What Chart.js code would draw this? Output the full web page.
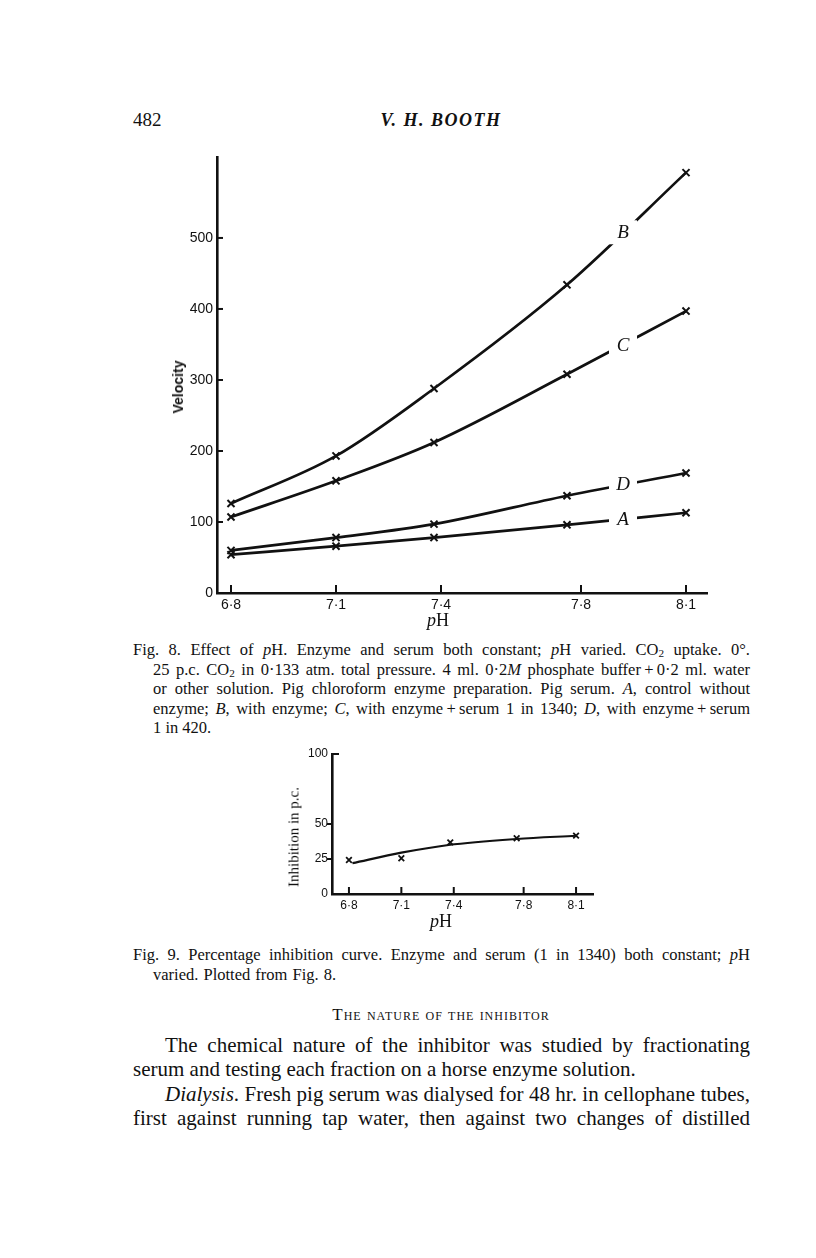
<!DOCTYPE html>
<html>
<head>
<meta charset="utf-8">
<script src="https://cdn.jsdelivr.net/npm/chart.js@4.4.1/dist/chart.umd.min.js"></script>
<style>
body { margin: 0; width: 816px; height: 1258px; position: relative; overflow: hidden; background: #fff; color: #111; font-family: "Liberation Serif", serif; }
.t { position: absolute; white-space: nowrap; }
.j { position: absolute; white-space: nowrap; }
.cap { font-size: 16.5px; line-height: 20px; }
.body { font-size: 21px; line-height: 24px; }
sub { font-size: 68%; vertical-align: -2px; line-height: 0; }
canvas { position: absolute; }
.rot { position: absolute; white-space: nowrap; transform: translate(-50%, -50%) rotate(-90deg); }
</style>
</head>
<body>

<div class="t" style="left:133px; top:109px; font-size:19px; line-height:22px;">482</div>
<div class="t" style="left:241px; width:400px; top:109px; text-align:center; font-size:18px; line-height:22px; font-weight:bold; font-style:italic; letter-spacing:1.5px;">V. H. BOOTH</div>

<div style="position:absolute; left:140px; top:140px; width:600px; height:500px;"><canvas id="velocityChart"></canvas></div>
<div class="rot" style="left:178px; top:387px; font-family:'Liberation Sans', sans-serif; font-weight:bold; font-size:14px;">Velocity</div>
<div class="t" style="left:388px; width:100px; top:609px; text-align:center; font-size:18px; line-height:22px;"><i>p</i>H</div>

<div class="j cap" style="left:133px; width:617px; top:640px;"><span>Fig. 8. Effect of <i>p</i>H. Enzyme and serum both constant; <i>p</i>H varied. CO<sub>2</sub> uptake. 0°.</span></div>
<div class="j cap" style="left:153px; width:597px; top:659.5px;"><span>25 p.c. CO<sub>2</sub> in 0·133 atm. total pressure. 4 ml. 0·2<i>M</i> phosphate buffer&#8201;+&#8201;0·2 ml. water</span></div>
<div class="j cap" style="left:153px; width:597px; top:679px;"><span>or other solution. Pig chloroform enzyme preparation. Pig serum. <i>A</i>, control without</span></div>
<div class="j cap" style="left:153px; width:597px; top:698.5px;"><span>enzyme; <i>B</i>, with enzyme; <i>C</i>, with enzyme&#8201;+&#8201;serum 1 in 1340; <i>D</i>, with enzyme&#8201;+&#8201;serum</span></div>
<div class="t cap" style="left:153px; top:718px;">1 in 420.</div>

<div style="position:absolute; left:280px; top:740px; width:340px; height:200px;"><canvas id="inhibitionChart"></canvas></div>
<div class="rot" style="left:294px; top:837px; font-size:15px;">Inhibition in p.c.</div>
<div class="t" style="left:391px; width:100px; top:910px; text-align:center; font-size:18px; line-height:22px;"><i>p</i>H</div>

<div class="j cap" style="left:133px; width:617px; top:945px;"><span>Fig. 9. Percentage inhibition curve. Enzyme and serum (1 in 1340) both constant; <i>p</i>H</span></div>
<div class="t cap" style="left:153px; top:965px; word-spacing:1px;">varied. Plotted from Fig. 8.</div>

<div class="t" style="left:141px; width:600px; top:1005px; text-align:center; font-size:17px; line-height:20px; font-variant:small-caps; letter-spacing:1px;">The nature of the inhibitor</div>

<div class="j body" style="left:165px; width:585px; top:1033px;"><span>The chemical nature of the inhibitor was studied by fractionating</span></div>
<div class="t body" style="left:133px; top:1057px;">serum and testing each fraction on a horse enzyme solution.</div>
<div class="j body" style="left:165px; width:585px; top:1082px;"><span><i>Dialysis</i>. Fresh pig serum was dialysed for 48 hr. in cellophane tubes,</span></div>
<div class="j body" style="left:133px; width:617px; top:1106px;"><span>first against running tap water, then against two changes of distilled</span></div>

<script>
// Fig. 8 values
const phValues = [6.8, 7.1, 7.38, 7.76, 8.1];
const seriesA = [54, 66, 78, 96, 113];
const seriesB = [126, 193, 288, 434, 592];
const seriesC = [107, 158, 212, 308, 397];
const seriesD = [60, 78, 97, 137, 169];
const phTicks = [6.8, 7.1, 7.4, 7.8, 8.1];
const phTickLabels = ["6·8", "7·1", "7·4", "7·8", "8·1"];
const velocityTicks = [0, 100, 200, 300, 400, 500];
const curveNames = ["B", "C", "D", "A"];
const curveNamePh = [7.92, 7.92, 7.92, 7.92];
const curveNameVelocity = [508, 349, 153, 104];

// Fig. 9 values
const inhibitionMarks = [24.3, 25.5, 36.9, 39.8, 41.7];
const fittedPh = [6.82, 7.1, 7.37, 7.76, 8.1];
const fittedInhibition = [22, 29.5, 35, 39.3, 41.6];
const inhibitionTicks = [0, 25, 50, 100];

const ink = "#111";
const tickFont = "'Liberation Sans Narrow', 'Liberation Sans', sans-serif";

// stretch each printed line to the column width
document.querySelectorAll(".j").forEach(function (line) {
    let span = line.firstElementChild;
    let gaps = (line.textContent.match(/ /g) || []).length;
    let room = line.getBoundingClientRect().width - span.getBoundingClientRect().width;
    if (gaps > 0) {
        line.style.wordSpacing = (room / gaps) + "px";
    }
});

const inwardTicks = {
    id: "inwardTicks",
    afterDraw: function (chart, args, opts) {
        const ctx = chart.ctx;
        const area = chart.chartArea;
        const x = chart.scales.x;
        const y = chart.scales.y;
        ctx.save();
        ctx.strokeStyle = ink;
        ctx.lineWidth = 2;
        x.ticks.forEach(function (t) {
            const px = x.getPixelForValue(t.value);
            ctx.beginPath();
            ctx.moveTo(px, area.bottom);
            ctx.lineTo(px, area.bottom - opts.xLength);
            ctx.stroke();
        });
        y.ticks.forEach(function (t) {
            if (t.value === 0) return;
            const py = y.getPixelForValue(t.value);
            let len = opts.yLength;
            if (t.value === y.max && opts.topLength) len = opts.topLength;
            ctx.beginPath();
            ctx.moveTo(area.left, py);
            ctx.lineTo(area.left + len, py);
            ctx.stroke();
        });
        ctx.restore();
    }
};

const curveLabels = {
    id: "curveLabels",
    afterDatasetsDraw: function (chart) {
        const ctx = chart.ctx;
        const x = chart.scales.x;
        const y = chart.scales.y;
        ctx.save();
        ctx.font = "italic 19px 'Liberation Serif'";
        ctx.textAlign = "center";
        ctx.textBaseline = "middle";
        curveNames.forEach(function (name, i) {
            const px = x.getPixelForValue(curveNamePh[i]);
            const py = y.getPixelForValue(curveNameVelocity[i]);
            ctx.fillStyle = "#fff";
            ctx.fillRect(px - 14, py - 12, 28, 24);
            ctx.fillStyle = ink;
            ctx.fillText(name, px, py + 1);
        });
        ctx.restore();
    }
};

function pairs(xs, ys) {
    return ys.map(function (v, i) { return { x: xs[i], y: v }; });
}

function curve(values) {
    return {
        data: pairs(phValues, values),
        borderColor: ink,
        borderWidth: 2.7,
        pointStyle: "crossRot",
        pointRadius: 5,
        pointBorderWidth: 2,
        pointBorderColor: ink,
        pointBackgroundColor: ink,
        cubicInterpolationMode: "monotone",
        fill: false
    };
}

function phAxis(min, max, size, height) {
    return {
        type: "linear",
        min: min,
        max: max,
        afterBuildTicks: function (scale) {
            scale.ticks = phTicks.map(function (v) { return { value: v }; });
        },
        afterFit: function (scale) { scale.height = height; },
        grid: { display: true, drawOnChartArea: false, drawTicks: false },
        border: { display: true, color: ink, width: 2.6 },
        ticks: {
            autoSkip: false,
            maxRotation: 0,
            padding: 4,
            color: ink,
            font: { family: tickFont, size: size },
            callback: function (value) {
                let i = phTicks.indexOf(value);
                return i >= 0 ? phTickLabels[i] : "";
            }
        }
    };
}

function valueAxis(max, list, size, width) {
    return {
        min: 0,
        max: max,
        afterBuildTicks: function (scale) {
            scale.ticks = list.map(function (v) { return { value: v }; });
        },
        afterFit: function (scale) { scale.width = width; },
        grid: { display: true, drawOnChartArea: false, drawTicks: false },
        border: { display: true, color: ink, width: 2.6 },
        ticks: { padding: 4, color: ink, font: { family: tickFont, size: size } }
    };
}

new Chart(document.getElementById("velocityChart"), {
    type: "line",
    data: {
        datasets: [curve(seriesA), curve(seriesB), curve(seriesC), curve(seriesD)]
    },
    options: {
        responsive: true,
        maintainAspectRatio: false,
        animation: false,
        layout: { padding: { left: 10, top: 17, right: 33, bottom: 7 } },
        scales: {
            x: phAxis(6.76, 8.16, 14, 40),
            y: valueAxis(614, velocityTicks, 14, 67)
        },
        plugins: {
            legend: { display: false },
            tooltip: { enabled: false },
            inwardTicks: { xLength: 8, yLength: 6 }
        }
    },
    plugins: [curveLabels, inwardTicks]
});

new Chart(document.getElementById("inhibitionChart"), {
    type: "line",
    data: {
        datasets: [{
            data: pairs(fittedPh, fittedInhibition),
            borderColor: ink,
            borderWidth: 2.2,
            pointRadius: 0,
            cubicInterpolationMode: "monotone",
            fill: false
        }, {
            data: pairs(phValues, inhibitionMarks),
            showLine: false,
            pointStyle: "crossRot",
            pointRadius: 4,
            pointBorderWidth: 1.8,
            pointBorderColor: ink,
            pointBackgroundColor: ink
        }]
    },
    options: {
        responsive: true,
        maintainAspectRatio: false,
        animation: false,
        layout: { padding: { left: 6, top: 14, right: 27, bottom: 6 } },
        scales: {
            x: phAxis(6.703, 8.197, 12, 40),
            y: valueAxis(100, inhibitionTicks, 12, 46)
        },
        plugins: {
            legend: { display: false },
            tooltip: { enabled: false },
            inwardTicks: { xLength: 7, yLength: -5, topLength: 7 }
        }
    },
    plugins: [inwardTicks]
});
</script>
</body>
</html>
